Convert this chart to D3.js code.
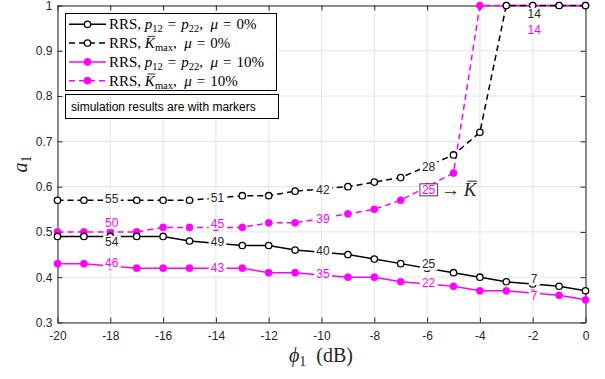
<!DOCTYPE html>
<html>
<head>
<meta charset="utf-8">
<script src="https://cdn.jsdelivr.net/npm/d3@7"></script>
<style>
  body { margin: 0; background: #fff; }
  svg { display: block; }
</style>
</head>
<body>
<svg id="chart" width="605" height="379"></svg>
<script>
// phi_1 in dB
const phi = [-20, -19, -18, -17, -16, -15, -14, -13, -12, -11, -10, -9, -8, -7, -6, -5, -4, -3, -2, -1, 0];

// a_1 values
const rrsEqualMu0  = [0.49, 0.49, 0.49, 0.49, 0.49, 0.48, 0.475, 0.47, 0.47, 0.46, 0.455, 0.45, 0.44, 0.43, 0.42, 0.41, 0.40, 0.39, 0.385, 0.38, 0.37];
const rrsKmaxMu0   = [0.57, 0.57, 0.57, 0.57, 0.57, 0.57, 0.575, 0.58, 0.58, 0.59, 0.595, 0.60, 0.61, 0.62, 0.645, 0.67, 0.72, 1, 1, 1, 1];
const rrsEqualMu10 = [0.43, 0.43, 0.425, 0.42, 0.42, 0.42, 0.42, 0.42, 0.41, 0.41, 0.405, 0.40, 0.40, 0.39, 0.385, 0.38, 0.37, 0.37, 0.365, 0.36, 0.35];
const rrsKmaxMu10  = [0.50, 0.50, 0.50, 0.50, 0.51, 0.51, 0.51, 0.51, 0.52, 0.52, 0.53, 0.54, 0.55, 0.57, 0.60, 0.63, 1, 1, 1, 1, 1];

// K values written on the curves
const labelPhi = [-18, -14, -10, -6, -2];
const kEqualMu0  = [54, 49, 40, 25, 7];
const kKmaxMu0   = [55, 51, 42, 28, 14];
const kEqualMu10 = [46, 43, 35, 22, 7];
const kKmaxMu10  = [50, 45, 39, 25, 14];

const xTicks = [-20, -18, -16, -14, -12, -10, -8, -6, -4, -2, 0];
const yTicks = [0.3, 0.4, 0.5, 0.6, 0.7, 0.8, 0.9, 1];

const MAG = '#ff00ff';
const INK = '#262626';
const SANS = '"Liberation Sans", Arial, Helvetica, sans-serif';
const SERIF = '"Liberation Serif", "Times New Roman", serif';

const svg = d3.select('#chart');

const x = d3.scaleLinear().domain([-20, 0]).range([57.5, 585.5]);
const y = d3.scaleLinear().domain([0.3, 1]).range([322.5, 5.5]);

// grid
const grid = svg.append('g').attr('class', 'grid')
  .attr('stroke', '#e4e4e4').attr('stroke-width', 1);
grid.selectAll('.gx').data(xTicks).join('line')
  .attr('x1', d => x(d)).attr('x2', d => x(d))
  .attr('y1', y(0.3)).attr('y2', y(1));
grid.selectAll('.gy').data(yTicks).join('line')
  .attr('x1', x(-20)).attr('x2', x(0))
  .attr('y1', d => y(d)).attr('y2', d => y(d));

// axes (box on, ticks pointing in)
function styleAxis(g) {
  g.select('.domain').attr('stroke', INK);
  g.selectAll('.tick line').attr('stroke', INK);
  g.selectAll('.tick text').attr('fill', INK).attr('font-family', SANS).attr('font-size', 12);
}
svg.append('g').attr('transform', `translate(0,${y(0.3)})`)
  .call(d3.axisBottom(x).tickValues(xTicks).tickSizeInner(-5).tickSizeOuter(0).tickPadding(9).tickFormat(d => String(d)))
  .call(styleAxis);
svg.append('g').attr('transform', `translate(0,${y(1)})`)
  .call(d3.axisTop(x).tickValues(xTicks).tickSizeInner(-5).tickSizeOuter(0).tickFormat(''))
  .call(styleAxis);
svg.append('g').attr('transform', `translate(${x(-20)},0)`)
  .call(d3.axisLeft(y).tickValues(yTicks).tickSizeInner(-5).tickSizeOuter(0).tickPadding(5)
    .tickFormat(d => d === 1 ? '1' : d.toFixed(1)))
  .call(styleAxis);
svg.append('g').attr('transform', `translate(${x(0)},0)`)
  .call(d3.axisRight(y).tickValues(yTicks).tickSizeInner(-5).tickSizeOuter(0).tickFormat(''))
  .call(styleAxis);

// series
const series = [
  { vals: rrsEqualMu10, labels: kEqualMu10, color: MAG, dash: null, filled: true,  dy: [-3, 0, -1, -1, 3] },
  { vals: rrsKmaxMu10,  labels: kKmaxMu10,  color: MAG, dash: '6,4', filled: true, dy: [-9, -4, 0, 3, 24] },
  { vals: rrsEqualMu0,  labels: kEqualMu0,  color: '#000', dash: null, filled: false, dy: [5, -1, -2, -4, -5] },
  { vals: rrsKmaxMu0,   labels: kKmaxMu0,   color: '#000', dash: '6,4', filled: false, dy: [-1, 0, 1, 1, 8] }
];

const line = d3.line().x(d => x(d[0])).y(d => y(d[1]));
const plot = svg.append('g').attr('class', 'plot');

series.forEach(s => {
  const pts = phi.map((p, i) => [p, s.vals[i]]);
  plot.append('path').datum(pts)
    .attr('fill', 'none').attr('stroke', s.color).attr('stroke-width', 1.5)
    .attr('stroke-dasharray', s.dash).attr('d', line);
  plot.selectAll(null).data(pts).join('circle')
    .attr('cx', d => x(d[0])).attr('cy', d => y(d[1]))
    .attr('r', s.filled ? 3.6 : 3.2)
    .attr('fill', s.filled ? s.color : '#fff')
    .attr('stroke', s.color).attr('stroke-width', s.filled ? 0.5 : 1.3);
});

// K labels with white backgrounds
const labelLayer = svg.append('g').attr('class', 'labels');
series.forEach((s, si) => {
  labelPhi.forEach((p, j) => {
    const v = s.vals[phi.indexOf(p)];
    const g = labelLayer.append('g');
    const t = g.append('text')
      .attr('x', x(p) + 1.5).attr('y', y(v) + s.dy[j]).attr('dy', '0.35em')
      .attr('text-anchor', 'middle')
      .attr('font-family', SANS).attr('font-size', 12)
      .attr('fill', s.color === MAG ? MAG : INK)
      .text(s.labels[j]);
    const bb = t.node().getBBox();
    const boxed = (si === 1 && p === -6);
    g.insert('rect', 'text')
      .attr('x', bb.x - 2).attr('y', bb.y + 1)
      .attr('width', bb.width + 4).attr('height', bb.height - 2)
      .attr('fill', '#fff')
      .attr('stroke', boxed ? '#404040' : 'none').attr('stroke-width', 1);
  });
});

// rich text helper: parts = [text, 'i' | 'sub' | 'bar' | '']
// 'bar' = italic letter with an overbar drawn as a line
function rich(parent, textSel, parts, size) {
  let shift = 0;
  const bars = [];
  parts.forEach(([str, kind]) => {
    const ts = textSel.append('tspan').text(str);
    const target = kind === 'sub' ? size * 0.2 : 0;
    if (target !== shift) { ts.attr('dy', target - shift); shift = target; }
    if (kind === 'sub') ts.attr('font-size', size * 0.7);
    if (kind === 'i' || kind === 'bar') ts.attr('font-style', 'italic');
    if (kind === 'bar') bars.push(ts);
  });
  const baseY = +textSel.attr('y');
  bars.forEach(ts => {
    const bb = ts.node().getBBox();
    const yb = baseY - size * 0.78;
    parent.append('line')
      .attr('x1', bb.x + bb.width * 0.3).attr('x2', bb.x + bb.width * 0.95)
      .attr('y1', yb).attr('y2', yb)
      .attr('stroke', textSel.attr('fill')).attr('stroke-width', size * 0.055);
  });
}

// "-> K bar" annotation next to the boxed label
const ann = svg.append('g');
const annText = ann.append('text')
  .attr('x', 441).attr('y', 196)
  .attr('font-family', SERIF).attr('font-size', 19).attr('fill', INK);
rich(ann, annText, [['\u2192\u2009', ''], ['K', 'bar']], 19);

// legend
const EQ = '\u2004=\u2004';
const SEP = ',\u2002';
const legendItems = [
  { color: '#000', dash: null, filled: false,
    parts: [['RRS, ', ''], ['p', 'i'], ['12', 'sub'], [EQ, ''], ['p', 'i'], ['22', 'sub'], [SEP, ''], ['\u03bc', 'i'], [EQ + '0%', '']] },
  { color: '#000', dash: '6,4', filled: false,
    parts: [['RRS, ', ''], ['K', 'bar'], ['max', 'sub'], [SEP, ''], ['\u03bc', 'i'], [EQ + '0%', '']] },
  { color: MAG, dash: null, filled: true,
    parts: [['RRS, ', ''], ['p', 'i'], ['12', 'sub'], [EQ, ''], ['p', 'i'], ['22', 'sub'], [SEP, ''], ['\u03bc', 'i'], [EQ + '10%', '']] },
  { color: MAG, dash: '6,4', filled: true,
    parts: [['RRS, ', ''], ['K', 'bar'], ['max', 'sub'], [SEP, ''], ['\u03bc', 'i'], [EQ + '10%', '']] }
];

const legend = svg.append('g').attr('class', 'legend');
legend.append('rect')
  .attr('x', 65.5).attr('y', 13.5).attr('width', 211).attr('height', 77)
  .attr('fill', '#fff').attr('stroke', '#000').attr('stroke-width', 1);

legendItems.forEach((it, i) => {
  const cy = 24.3 + i * 18.8;
  legend.append('line')
    .attr('x1', 69).attr('x2', 106).attr('y1', cy).attr('y2', cy)
    .attr('stroke', it.color).attr('stroke-width', 1.5).attr('stroke-dasharray', it.dash);
  legend.append('circle')
    .attr('cx', 87.5).attr('cy', cy).attr('r', it.filled ? 3.6 : 3.2)
    .attr('fill', it.filled ? it.color : '#fff')
    .attr('stroke', it.color).attr('stroke-width', it.filled ? 0.5 : 1.3);
  const t = legend.append('text')
    .attr('x', 109).attr('y', cy + 5)
    .attr('font-family', SERIF).attr('font-size', 15).attr('fill', '#000');
  rich(legend, t, it.parts, 15);
});

legend.append('rect')
  .attr('x', 65.5).attr('y', 94.5).attr('width', 213).attr('height', 24)
  .attr('fill', '#fff').attr('stroke', '#000').attr('stroke-width', 1);
legend.append('text')
  .attr('x', 71).attr('y', 111)
  .attr('font-family', SANS).attr('font-size', 12).attr('fill', '#000')
  .text('simulation results are with markers');

// axis labels
const xl = svg.append('text')
  .attr('x', 321).attr('y', 362).attr('text-anchor', 'middle')
  .attr('font-family', SERIF).attr('font-size', 20).attr('fill', INK);
rich(svg, xl, [['\u03d5', 'i'], ['1', 'sub'], ['\u2002(dB)', '']], 20);

const yl = svg.append('text')
  .attr('transform', 'translate(27,164) rotate(-90)').attr('text-anchor', 'middle')
  .attr('font-family', SERIF).attr('font-size', 20).attr('fill', INK);
rich(svg, yl, [['a', 'i'], ['1', 'sub']], 20);
</script>
</body>
</html>
